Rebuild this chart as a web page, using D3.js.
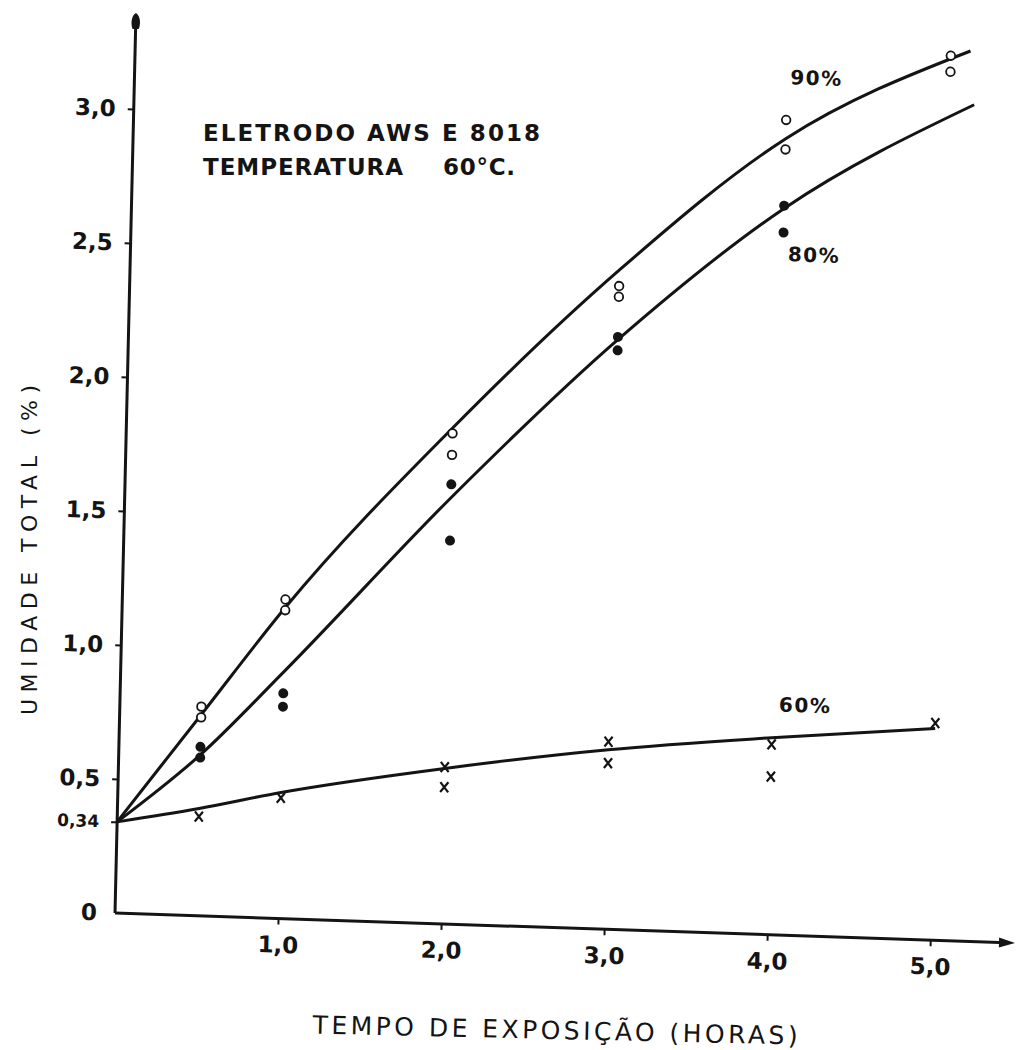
<!DOCTYPE html>
<html><head><meta charset="utf-8">
<script src="https://cdn.jsdelivr.net/npm/d3@7"></script>
<style>body{margin:0;background:#fff}</style>
</head><body><svg id="c" width="1016" height="1050"></svg>
<script>
// ---- data ----
const hours = [0.5, 1.0, 2.0, 3.0, 4.0, 5.0];
// 90% RH (open circles), two specimens per time
const rh90a = [0.78, 1.19, 1.83, 2.40, 3.04, 3.30];
const rh90b = [0.74, 1.15, 1.75, 2.36, 2.93, 3.24];
// 80% RH (filled circles)
const rh80a = [0.63, 0.84, 1.64, 2.21, 2.72, null];
const rh80b = [0.59, 0.79, 1.43, 2.16, 2.62, null];
// 60% RH (crosses)
const rh60a = [0.37, 0.45, 0.585, 0.70, 0.71, 0.81];
const rh60b = [null, null, 0.51, 0.62, 0.59, null];
// hand-fitted curves
const fitHours90 = [0, 0.5, 1, 2, 3, 4, 5.12];
const fit90 = [0.34, 0.75, 1.16, 1.85, 2.46, 2.97, 3.32];
const fitHours80 = [0, 0.5, 1, 2, 3, 4, 5.15];
const fit80 = [0.34, 0.60, 0.92, 1.59, 2.20, 2.71, 3.12];
const fitHours60 = [0, 0.5, 1, 2, 3, 4, 5.0];
const fit60 = [0.34, 0.40, 0.47, 0.58, 0.67, 0.735, 0.79];
const curveLabels = ["90%", "80%", "60%"];
const yTicks = [0, 0.34, 0.5, 1.0, 1.5, 2.0, 2.5, 3.0];
const yTickLabels = ["0", "0,34", "0,5", "1,0", "1,5", "2,0", "2,5", "3,0"];
const xTicks = [1, 2, 3, 4, 5];
const xTickLabels = ["1,0", "2,0", "3,0", "4,0", "5,0"];

const INK = "#141414";
const FONT = "'DejaVu Sans', sans-serif";
const svg = d3.select("#c");
svg.append("rect").attr("width", 1016).attr("height", 1050).attr("fill", "#fff");

// plot frame follows the slightly skewed scan
const g = svg.append("g").attr("transform", "matrix(1,0.0333,-0.0233,1,115,913)");
const x = d3.scaleLinear().domain([0, 5.52]).range([0, 900]);
const y = d3.scaleLinear().domain([0, 3.358]).range([0, -900]);

// axes lines
g.append("line").attr("x1", x(0)).attr("x2", x(5.52) - 8).attr("y1", y(0)).attr("y2", y(0))
  .attr("stroke", INK).attr("stroke-width", 3);
g.append("line").attr("x1", x(0)).attr("x2", x(0)).attr("y1", y(0)).attr("y2", y(3.358) + 10)
  .attr("stroke", INK).attr("stroke-width", 3);
// arrow heads
g.append("path").attr("fill", INK)
  .attr("d", `M${x(5.52)},${y(0)} L${x(5.52) - 16},${y(0) - 5} L${x(5.52) - 16},${y(0) + 5} Z`);
g.append("path").attr("fill", INK)
  .attr("d", `M${x(0)},${y(3.358)} C${x(0) + 5},${y(3.358) + 3} ${x(0) + 5},${y(3.358) + 12} ${x(0) + 3},${y(3.358) + 16} L${x(0) - 3},${y(3.358) + 16} C${x(0) - 5},${y(3.358) + 12} ${x(0) - 5},${y(3.358) + 3} ${x(0)},${y(3.358)} Z`);

// y axis ticks
const ya = g.append("g").call(d3.axisLeft(y).tickValues(yTicks).tickSize(6).tickPadding(12)
  .tickFormat((d, i) => yTickLabels[i]));
ya.select(".domain").remove();
ya.selectAll("line").attr("stroke", INK).attr("stroke-width", 2)
  .attr("opacity", d => d === 0 ? 0 : 1);
ya.selectAll("text").attr("font-family", FONT).attr("font-weight", "bold")
  .attr("font-size", d => d === 0.34 ? 17 : 23).attr("fill", INK);

// x axis ticks
const xa = g.append("g").call(d3.axisBottom(x).tickValues(xTicks).tickSize(6).tickPadding(12)
  .tickFormat((d, i) => xTickLabels[i]));
xa.select(".domain").remove();
xa.selectAll("line").attr("stroke", INK).attr("stroke-width", 2);
xa.selectAll("text").attr("font-family", FONT).attr("font-weight", "bold")
  .attr("font-size", 23).attr("fill", INK);

// fitted curves
const line = d3.line().x(d => x(d[0])).y(d => y(d[1])).curve(d3.curveMonotoneX);
[[fitHours90, fit90], [fitHours80, fit80], [fitHours60, fit60]].forEach(([hs, vs]) => {
  g.append("path").datum(hs.map((h, i) => [h, vs[i]])).attr("d", line)
    .attr("fill", "none").attr("stroke", INK).attr("stroke-width", 3);
});

// markers
const pts = (arr) => hours.map((h, i) => [h, arr[i]]).filter(d => d[1] != null);
[rh90a, rh90b].forEach(arr => {
  g.selectAll(null).data(pts(arr)).enter().append("circle")
    .attr("cx", d => x(d[0])).attr("cy", d => y(d[1])).attr("r", 4.3)
    .attr("fill", "#fff").attr("stroke", INK).attr("stroke-width", 1.8);
});
[rh80a, rh80b].forEach(arr => {
  g.selectAll(null).data(pts(arr)).enter().append("circle")
    .attr("cx", d => x(d[0])).attr("cy", d => y(d[1])).attr("r", 5)
    .attr("fill", INK);
});
[rh60a, rh60b].forEach(arr => {
  g.selectAll(null).data(pts(arr)).enter().append("path")
    .attr("transform", d => `translate(${x(d[0])},${y(d[1])})`)
    .attr("d", "M-4,-5L4,5M4,-5L-4,5").attr("fill", "none")
    .attr("stroke", INK).attr("stroke-width", 2.2);
});

// curve labels
const labelPos = [[4.18, 3.20], [4.19, 2.54], [4.2, 0.86]];
curveLabels.forEach((t, i) => {
  g.append("text").attr("x", x(labelPos[i][0])).attr("y", y(labelPos[i][1]))
    .attr("text-anchor", "middle").attr("dominant-baseline", "central")
    .attr("font-family", FONT).attr("font-weight", "bold").attr("font-size", 20)
    .attr("letter-spacing", 1.5).attr("fill", INK).text(t);
});

// annotation
svg.append("text").attr("x", 203).attr("y", 141).attr("textLength", 337).attr("lengthAdjust", "spacing")
  .attr("font-family", FONT).attr("font-weight", "bold").attr("font-size", 23).attr("fill", INK)
  .text("ELETRODO AWS E 8018");
svg.append("text").attr("x", 203).attr("y", 175).attr("textLength", 200).attr("lengthAdjust", "spacing")
  .attr("font-family", FONT).attr("font-weight", "bold").attr("font-size", 23).attr("fill", INK)
  .text("TEMPERATURA");
svg.append("text").attr("x", 443).attr("y", 175).attr("textLength", 72).attr("lengthAdjust", "spacing")
  .attr("font-family", FONT).attr("font-weight", "bold").attr("font-size", 23).attr("fill", INK)
  .text("60°C.");

// axis titles
svg.append("text").attr("transform", "translate(555,1039) rotate(1.3)")
  .attr("text-anchor", "middle").attr("textLength", 485).attr("lengthAdjust", "spacing")
  .attr("font-family", FONT).attr("font-size", 25).attr("fill", INK)
  .text("TEMPO DE EXPOSIÇÃO (HORAS)");
svg.append("text").attr("transform", "translate(37,550) rotate(-90)")
  .attr("text-anchor", "middle").attr("textLength", 330).attr("lengthAdjust", "spacing")
  .attr("font-family", FONT).attr("font-size", 22).attr("fill", INK)
  .text("UMIDADE TOTAL (%)");
</script></body></html>
